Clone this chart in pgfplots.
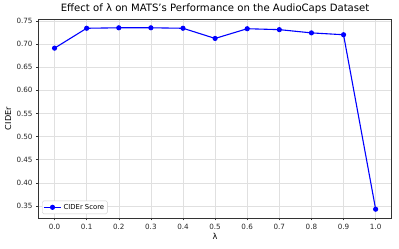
\documentclass[border=0pt]{standalone}
\usepackage{pgfplots}
\pgfplotsset{compat=1.18}
\usepackage{fontspec}
\setmainfont{DejaVu Sans}
\begin{document}
\begin{tikzpicture}
\begin{axis}[
  scale only axis,
  width=353.2pt, height=199pt,
  xmin=-0.05, xmax=1.05,
  ymin=0.324, ymax=0.754,
  xtick={0,0.1,...,1.0},
  ytick={0.35,0.40,...,0.75},
  xticklabel style={/pgf/number format/.cd,fixed,fixed zerofill,precision=1},
  yticklabel style={/pgf/number format/.cd,fixed,fixed zerofill,precision=2},
  /pgf/number format/assume math mode=true,
  ticklabel style={font=\fontsize{7.2}{8}\selectfont, text=black!85},
  tick align=outside,
  major tick length=2.4pt,
  tick style={black!80, line width=0.5pt},
  xtick pos=bottom, ytick pos=left,
  axis line style={black!80, line width=0.6pt},
  grid=major,
  grid style={black!12, line width=0.5pt},
  title={Effect of λ on MATS's Performance on the AudioCaps Dataset},
  title style={font=\fontsize{10.1}{12}\selectfont, yshift=-4.5pt},
  xlabel={λ},
  ylabel={CIDEr},
  label style={font=\fontsize{8.2}{9}\selectfont},
  xlabel style={yshift=3pt},
  ylabel style={yshift=-1.5pt},
  legend style={font=\fontsize{6.85}{8}\selectfont, draw=black!20, rounded corners=1.5pt, inner sep=1.2pt, at={(0.01,0.02)}, anchor=south west},
  legend cell align=left,
]
\addplot[blue, line width=1.1pt, mark=*, mark size=2pt, mark options={solid,fill=blue}] coordinates {
 (0.0,0.691) (0.1,0.734) (0.2,0.735) (0.3,0.735) (0.4,0.734) (0.5,0.712)
 (0.6,0.733) (0.7,0.731) (0.8,0.724) (0.9,0.720) (1.0,0.343)
};
\addlegendentry{CIDEr Score}
\end{axis}
\pgfresetboundingbox
\path[use as bounding box] ([xshift=-38.5pt,yshift=-31pt]current axis.south west) rectangle ([xshift=7.3pt,yshift=19pt]current axis.north east);
\end{tikzpicture}
\end{document}
